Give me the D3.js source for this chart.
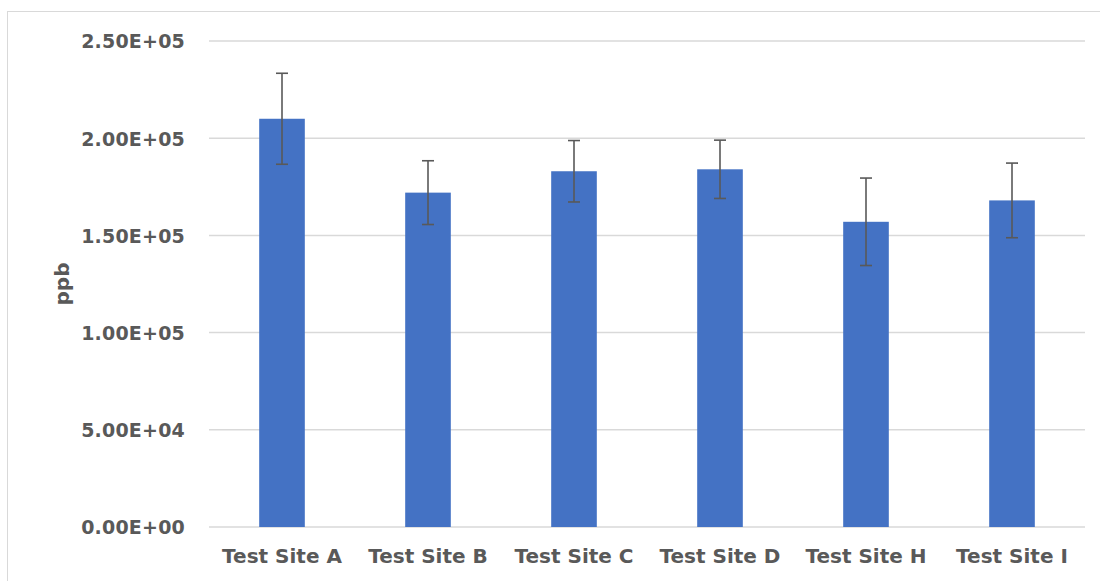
<!DOCTYPE html>
<html>
<head>
<meta charset="utf-8">
<script src="https://cdn.jsdelivr.net/npm/d3@7"></script>
<style>
  html, body { margin: 0; padding: 0; background: #fff; }
  svg { display: block; }
  text { font-family: "DejaVu Sans", sans-serif; font-weight: bold; fill: #595959; }
</style>
</head>
<body>
<svg id="chart" width="1100" height="581"></svg>
<script>
const categories = ["Test Site A", "Test Site B", "Test Site C", "Test Site D", "Test Site H", "Test Site I"];
const values = [210000, 172000, 183000, 184000, 157000, 168000];
const errors = [23400, 16400, 15800, 15000, 22500, 19200];
const yTicks = [0, 50000, 100000, 150000, 200000, 250000];
const yTickLabels = ["0.00E+00", "5.00E+04", "1.00E+05", "1.50E+05", "2.00E+05", "2.50E+05"];
const yTitle = "ppb";

const svg = d3.select("#chart");
const plot = { left: 209, right: 1085, top: 41, bottom: 527 };

// chart area border
svg.append("rect")
  .attr("x", 7.5).attr("y", 11.5)
  .attr("width", 1200).attr("height", 1000)
  .attr("fill", "none").attr("stroke", "#d9d9d9").attr("stroke-width", 1);

const x = d3.scaleBand()
  .domain(categories)
  .range([plot.left, plot.right])
  .paddingInner(0.6875)
  .paddingOuter(0.34375);

const y = d3.scaleLinear()
  .domain([0, 250000])
  .range([plot.bottom, plot.top]);

// gridlines
svg.append("g").selectAll("line")
  .data(yTicks)
  .join("line")
  .attr("x1", plot.left).attr("x2", plot.right)
  .attr("y1", d => y(d)).attr("y2", d => y(d))
  .attr("stroke", "#d9d9d9").attr("stroke-width", 1.5);

// y axis labels
const yAxis = d3.axisLeft(y)
  .tickValues(yTicks)
  .tickFormat((d, i) => yTickLabels[i])
  .tickSize(0)
  .tickPadding(0);
const yg = svg.append("g")
  .attr("transform", `translate(${185},0)`)
  .call(yAxis);
yg.select(".domain").remove();
yg.selectAll("text")
  .attr("font-size", 19)
  .attr("dy", "0.36em")
  .style("font-family", "'DejaVu Sans', sans-serif")
  .style("font-weight", "bold")
  .style("letter-spacing", "0.2px")
  .attr("fill", "#595959");

// bars
svg.append("g").selectAll("rect")
  .data(categories)
  .join("rect")
  .attr("x", d => x(d))
  .attr("width", x.bandwidth())
  .attr("y", (d, i) => y(values[i]))
  .attr("height", (d, i) => y(0) - y(values[i]))
  .attr("fill", "#4472c4");

// error bars
const eg = svg.append("g").attr("stroke", "#595959").attr("stroke-width", 1.6);
categories.forEach((c, i) => {
  const cx = x(c) + x.bandwidth() / 2;
  const top = y(values[i] + errors[i]);
  const bot = y(values[i] - errors[i]);
  eg.append("line").attr("x1", cx).attr("x2", cx).attr("y1", top).attr("y2", bot);
  eg.append("line").attr("x1", cx - 6).attr("x2", cx + 6).attr("y1", top).attr("y2", top);
  eg.append("line").attr("x1", cx - 6).attr("x2", cx + 6).attr("y1", bot).attr("y2", bot);
});

// x axis labels
const xAxis = d3.axisBottom(x).tickSize(0).tickPadding(0);
const xg = svg.append("g")
  .attr("transform", `translate(0,${563})`)
  .call(xAxis);
xg.select(".domain").remove();
xg.selectAll("text")
  .attr("y", 0).attr("dy", 0)
  .attr("font-size", 20)
  .style("font-family", "'DejaVu Sans', sans-serif")
  .style("font-weight", "bold")
  .attr("fill", "#595959");

// y title
svg.append("text")
  .attr("transform", `translate(69,284) rotate(-90)`)
  .attr("text-anchor", "middle")
  .attr("font-size", 20)
  .text(yTitle);
</script>
</body>
</html>
